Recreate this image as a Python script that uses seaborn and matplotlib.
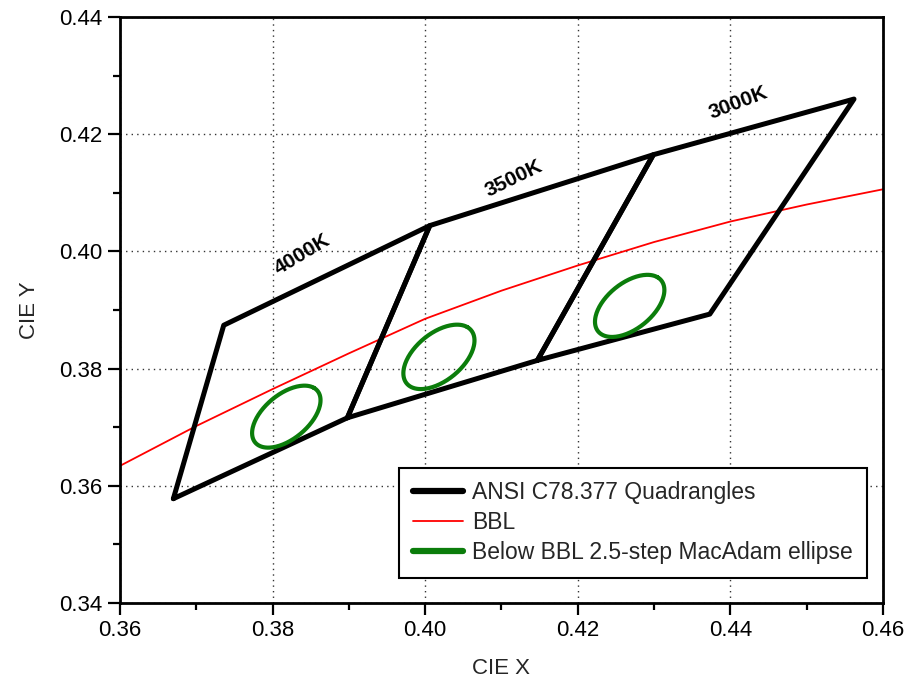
import numpy as np
import pandas as pd
import seaborn as sns
import matplotlib.pyplot as plt
from matplotlib.lines import Line2D

# ANSI C78.377 quadrangle corners (CIE x, y)
q4000_x = [0.3670, 0.3736, 0.4006, 0.3898]
q4000_y = [0.3578, 0.3874, 0.4044, 0.3716]
q3500_x = [0.3898, 0.4006, 0.4299, 0.4147]
q3500_y = [0.3716, 0.4044, 0.4165, 0.3814]
q3000_x = [0.4147, 0.4299, 0.4562, 0.4373]
q3000_y = [0.3814, 0.4165, 0.4260, 0.3893]

cct_labels = ["4000K", "3500K", "3000K"]
label_x = [0.3839, 0.4116, 0.4410]
label_y = [0.3994, 0.4125, 0.4253]
label_rot = [31, 26, 21]

# black body locus
bbl_x = [0.36, 0.37, 0.38, 0.39, 0.40, 0.41, 0.42, 0.43, 0.44, 0.45, 0.46]
bbl_y = [0.3634, 0.3702, 0.3765, 0.3826, 0.3885, 0.3933, 0.3976, 0.4016, 0.4051, 0.4080, 0.4106]

# below-BBL MacAdam ellipses: centre, semi axes, tilt (deg)
ell_cx = [0.3818, 0.4018, 0.4268]
ell_cy = [0.3718, 0.3820, 0.3907]
ell_a = [0.0061, 0.0063, 0.0061]
ell_b = [0.0033, 0.0035, 0.0034]
ell_theta = [53.7, 54.0, 53.4]

GREEN = "#0b7d0b"


def build_quads() -> pd.DataFrame:
    rows = []
    for cct, xs, ys in zip(cct_labels, [q4000_x, q3500_x, q3000_x], [q4000_y, q3500_y, q3000_y]):
        for i in range(len(xs) + 1):
            rows.append((cct, i, xs[i % len(xs)], ys[i % len(ys)]))
    return pd.DataFrame(rows, columns=["cct", "order", "x", "y"])


def build_ellipses() -> pd.DataFrame:
    t = np.linspace(0, 2 * np.pi, 181)
    frames = []
    for cct, cx, cy, a, b, th in zip(cct_labels, ell_cx, ell_cy, ell_a, ell_b, ell_theta):
        th = np.radians(th)
        x = cx + a * np.cos(t) * np.cos(th) - b * np.sin(t) * np.sin(th)
        y = cy + a * np.cos(t) * np.sin(th) + b * np.sin(t) * np.cos(th)
        frames.append(pd.DataFrame({"cct": cct, "x": x, "y": y}))
    return pd.concat(frames, ignore_index=True)


sns.set_style("white")
plt.rcParams['font.family'] = ['Liberation Sans', 'DejaVu Sans']

fig = plt.figure(figsize=(9.2, 6.75), dpi=100)
ax = fig.add_axes([0.1304, 0.1067, 0.8294, 0.8681])

quads = build_quads()
ells = build_ellipses()
bbl = pd.DataFrame({"x": bbl_x, "y": bbl_y})

sns.lineplot(data=bbl, x="x", y="y", color="red", lw=1.3, ax=ax, legend=False)
sns.lineplot(data=quads, x="x", y="y", units="cct", estimator=None, sort=False,
             color="black", lw=3.6, ax=ax, legend=False, zorder=3)
sns.lineplot(data=ells, x="x", y="y", units="cct", estimator=None, sort=False,
             color=GREEN, lw=3.0, ax=ax, legend=False, zorder=4)

for lab, lx, ly, rot in zip(cct_labels, label_x, label_y, label_rot):
    ax.text(lx, ly, lab, rotation=rot, ha="center", va="center",
            fontsize=15, fontweight="bold", color="black")

ax.set_xlim(0.36, 0.46)
ax.set_ylim(0.34, 0.44)
ax.set_xticks(np.arange(0.36, 0.4601, 0.02))
ax.set_yticks(np.arange(0.34, 0.4401, 0.02))
ax.set_xticks(np.arange(0.37, 0.46, 0.02), minor=True)
ax.set_yticks(np.arange(0.35, 0.44, 0.02), minor=True)
ax.xaxis.set_major_formatter(plt.FormatStrFormatter("%.2f"))
ax.yaxis.set_major_formatter(plt.FormatStrFormatter("%.2f"))

ax.grid(True, which="major", color="#333333", linestyle=(0, (1, 3)), linewidth=1.0)
ax.set_axisbelow(True)
for sp in ax.spines.values():
    sp.set_color("black")
    sp.set_linewidth(2.0)
ax.tick_params(which="major", direction="out", length=8.5, width=1.6,
               labelsize=16, pad=4, bottom=True, left=True, colors="black")
ax.tick_params(which="minor", direction="out", length=5, width=1.6,
               bottom=True, left=True, colors="black")

ax.set_xlabel("CIE X", fontsize=16, labelpad=12)
ax.set_ylabel("CIE Y", fontsize=16, labelpad=14)

handles = [Line2D([], [], color="black", lw=4.5),
           Line2D([], [], color="red", lw=1.3),
           Line2D([], [], color=GREEN, lw=4.5)]
names = ["ANSI C78.377 Quadrangles", "BBL", "Below BBL 2.5-step MacAdam ellipse"]
leg = ax.legend(handles, names, loc="lower right", bbox_to_anchor=(0.979, 0.043),
                fontsize=16.5, handlelength=2.2, handletextpad=0.4, labelspacing=0.3,
                borderpad=0.6, borderaxespad=0, fancybox=False, framealpha=1, edgecolor="black")
leg.get_frame().set_linewidth(1.5)

plt.savefig("out.png", dpi=100)
